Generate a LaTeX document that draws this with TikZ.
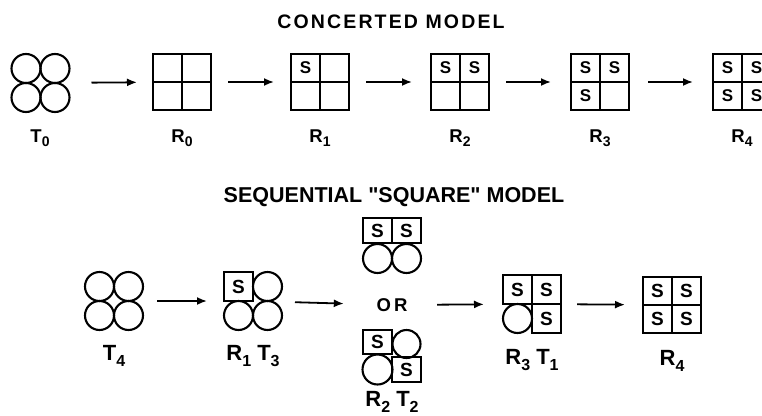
\documentclass[tikz,border=0pt]{standalone}
\usepackage{fontspec}
\setmainfont{Liberation Sans}[Ligatures=TeXOff]
\usetikzlibrary{arrows.meta}
\newcommand\mysub[1]{\raisebox{-0.25em}{\fontsize{14}{14}\selectfont #1}}
\newcommand\mysubb[1]{\raisebox{-0.28em}{\fontsize{16}{16}\selectfont #1}}
\begin{document}
\begin{tikzpicture}[x=1pt,y=-1pt]
\tikzset{
  box/.style={line width=2.6pt, line join=miter},
  inner/.style={line width=2pt},
  ring/.style={line width=2.1pt},
  arr/.style={line width=1.8pt, -{Latex[length=10pt,width=8pt]}, shorten <=17pt, shorten >=17pt},
  grp/.style={inner sep=0pt, outer sep=0pt, minimum width=58pt, minimum height=58pt},
  quad/.style={draw, box, inner sep=0pt, outer sep=0pt, minimum width=58pt, minimum height=56pt},
  lab/.style={font=\bfseries\fontsize{18.5}{18.5}\selectfont, anchor=base},
  labb/.style={font=\bfseries\fontsize{22}{22}\selectfont, anchor=base},
  stxt/.style={font=\bfseries\fontsize{17}{17}\selectfont},
  sbig/.style={font=\bfseries\fontsize{19}{19}\selectfont},
  pics/tc/.style={code={\draw[ring] (0,0) circle[radius=14.5];}},
  pics/rs/.style={code={\draw[box] (-14.5,-14.5) rectangle (14.5,14.5); \node[sbig] at (0,0) {S};}},
}
\clip (0,0) rectangle (762,415);

% ---------- CONCERTED MODEL ----------
\node[font=\bfseries\addfontfeatures{LetterSpace=11}\fontsize{19.5}{19.5}\selectfont] (title1) at (391,22) {CONCERTED MODEL};

\node[grp] (t0) at (40.5,83) {};
\foreach \dx/\dy in {-14.5/-14.5, 14.5/-14.5, -14.5/14.5, 14.5/14.5}
  \pic at ([shift={(\dx,\dy)}]t0) {tc};
\node[lab] (lt0) at (40,142) {T\mysub{0}};

\foreach \n/\cx in {r0/182, r1/320, r2/460, r3/600, r4/742}{
  \node[quad] (\n) at (\cx,82) {};
  \draw[inner] (\n.north) -- (\n.south);
  \draw[inner] (\n.west) -- (\n.east);
}
\node[stxt] at ([shift={(-14.5,-14)}]r1) {S};
\node[stxt] at ([shift={(-14.5,-14)}]r2) {S};
\node[stxt] at ([shift={(14.5,-14)}]r2) {S};
\node[stxt] at ([shift={(-14.5,-14)}]r3) {S};
\node[stxt] at ([shift={(14.5,-14)}]r3) {S};
\node[stxt] at ([shift={(-14.5,14)}]r3) {S};
\node[stxt] at ([shift={(-14.5,-14)}]r4) {S};
\node[stxt] at ([shift={(14.5,-14)}]r4) {S};
\node[stxt] at ([shift={(-14.5,14)}]r4) {S};
\node[stxt] at ([shift={(14.5,14)}]r4) {S};

\node[lab] (lr0) at (182,142) {R\mysub{0}};
\node[lab] (lr1) at (320,142) {R\mysub{1}};
\node[lab] (lr2) at (460,142) {R\mysub{2}};
\node[lab] (lr3) at (600,142) {R\mysub{3}};
\node[lab] (lr4) at (742,142) {R\mysub{4}};

\draw[arr, shorten <=22pt, shorten >=16pt] (t0) -- (r0);
\draw[arr] (r0) -- (r1);
\draw[arr, shorten >=19pt] (r1) -- (r2);
\draw[arr, shorten >=20pt] (r2) -- (r3);
\draw[arr, shorten <=19pt, shorten >=20pt] (r3) -- (r4);

% ---------- SEQUENTIAL "SQUARE" MODEL ----------
\node[font=\bfseries\fontsize{21.5}{21.5}\selectfont] (title2) at (394,197) {SEQUENTIAL "SQUARE" MODEL};

% T4
\node[grp] (t4) at (114,301) {};
\foreach \dx/\dy in {-14.5/-14.5, 14.5/-14.5, -14.5/14.5, 14.5/14.5}
  \pic at ([shift={(\dx,\dy)}]t4) {tc};
\node[labb] (lt4) at (114,360) {T\mysubb{4}};

% R1 T3
\node[grp] (r1t3) at (253,301) {};
\pic at ([shift={(-14.5,-14.5)}]r1t3) {rs};
\pic at ([shift={(14.5,-14.5)}]r1t3) {tc};
\pic at ([shift={(-14.5,14.5)}]r1t3) {tc};
\pic at ([shift={(14.5,14.5)}]r1t3) {tc};
\node[labb] (lr1t3) at (253,360) {R\mysubb{1} T\mysubb{3}};

% OR column
\node[grp] (ortop) at (392,246.5) {};
\draw[box] (363,218) rectangle (392,243);
\draw[box] (392,218) rectangle (421,243);
\node[sbig] at (377.5,230.5) {S};
\node[sbig] at (406.5,230.5) {S};
\draw[ring] (377.5,258.5) circle[radius=14.5];
\draw[ring] (406.5,258.5) circle[radius=14.5];

\node[inner sep=0pt, minimum width=60pt, font=\bfseries\fontsize{18.5}{18.5}\selectfont] (or) at (392,305) {O\,R};

\node[grp] (orbot) at (392,357) {};
\draw[box] (363,330) rectangle (392,354);
\node[sbig] at (377.5,342) {S};
\draw[ring] (406.5,344) circle[radius=14];
\draw[ring] (377.5,369.5) circle[radius=15];
\draw[box] (392,357) rectangle (421,382);
\node[sbig] at (406.5,369.5) {S};
\node[labb] (lr2t2) at (392,406) {R\mysubb{2} T\mysubb{2}};

% R3 T1
\node[grp] (r3t1) at (532,304) {};
\pic at ([shift={(-14.5,-14.5)}]r3t1) {rs};
\pic at ([shift={(14.5,-14.5)}]r3t1) {rs};
\pic at ([shift={(-14.5,14.5)}]r3t1) {tc};
\pic at ([shift={(14.5,14.5)}]r3t1) {rs};
\node[labb] (lr3t1) at (532,364) {R\mysubb{3} T\mysubb{1}};

% R4
\node[quad] (r4b) at (672,305) {};
\draw[inner] (r4b.north) -- (r4b.south);
\draw[inner] (r4b.west) -- (r4b.east);
\foreach \dx/\dy in {-14.5/-14, 14.5/-14, -14.5/14, 14.5/14}
  \node[sbig] at ([shift={(\dx,\dy)}]r4b) {S};
\node[labb] (lr4b) at (672,365) {R\mysubb{4}};

\draw[arr, shorten <=14pt, shorten >=17pt] (t4) -- (r1t3);
\draw[arr, shorten <=13pt, shorten >=18pt] (r1t3) -- (or);
\draw[arr, shorten <=15pt, shorten >=19pt] (or) -- (r3t1);
\draw[arr, shorten <=16pt, shorten >=18pt] (r3t1) -- (r4b);
\end{tikzpicture}
\end{document}
